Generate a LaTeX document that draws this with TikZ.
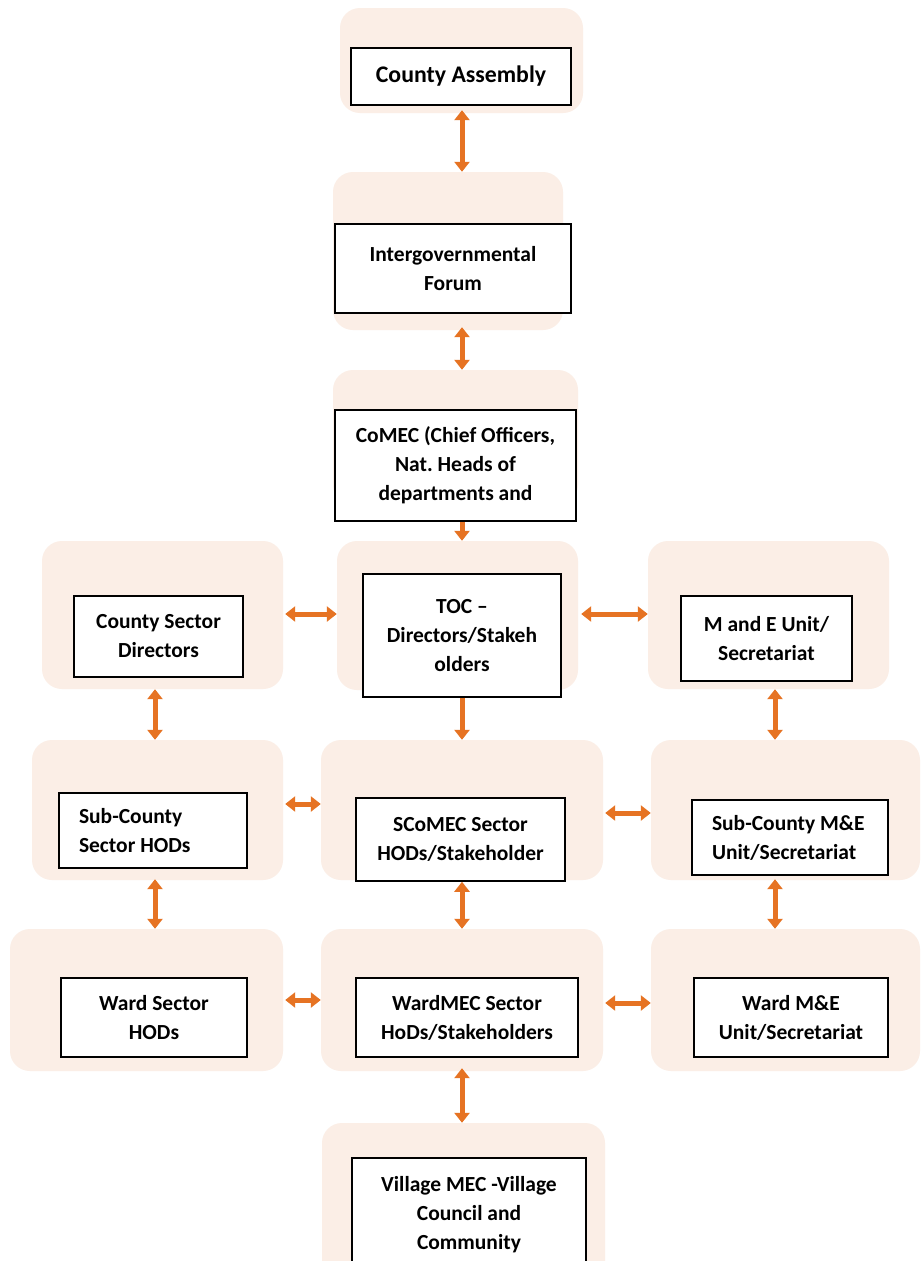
\documentclass[tikz,border=0pt]{standalone}
\usepackage{fontspec}
\setmainfont{Carlito}
\usetikzlibrary{arrows.meta}
\definecolor{peach}{RGB}{251,238,230}
\definecolor{arrowor}{RGB}{230,115,35}
\frenchspacing
\tikzset{
  bgbox/.style={draw=none, fill=peach, rounded corners=20pt, inner sep=0pt},
  inbox/.style={draw=black, line width=1.5pt, fill=white, inner sep=0pt, align=center,
     font=\fontsize{21.5}{29}\selectfont\bfseries},
  darr/.style={draw=arrowor, line width=5pt, {Triangle[width=15pt,length=10pt]}-{Triangle[width=15pt,length=10pt]}},
  sarr/.style={draw=arrowor, line width=5pt, -{Triangle[width=15pt,length=10pt]}},
}
\begin{document}
\begin{tikzpicture}[x=1pt,y=-1pt]
\clip (0,0) rectangle (922,1261);
\fill[white] (0,0) rectangle (922,1261);
% background panels
\node[bgbox, minimum width=243pt, minimum height=105pt] (cabg) at (461.5,60.5) {};
\node[bgbox, minimum width=230pt, minimum height=158pt] (ifbg) at (448,251) {};
\node[bgbox, minimum width=245pt, minimum height=135pt] (cobg) at (455.5,437.5) {};
\node[bgbox, minimum width=241pt, minimum height=149pt] (tocbg) at (457.5,615.5) {};
\node[bgbox, minimum width=241pt, minimum height=148pt] (csdbg) at (162.5,615) {};
\node[bgbox, minimum width=241pt, minimum height=148pt] (mebg) at (768.5,615) {};
\node[bgbox, minimum width=251pt, minimum height=140pt] (schbg) at (157.5,810) {};
\node[bgbox, minimum width=282pt, minimum height=140pt] (scmbg) at (462,810) {};
\node[bgbox, minimum width=269pt, minimum height=140pt] (scmebg) at (785.5,810) {};
\node[bgbox, minimum width=273pt, minimum height=142pt] (wshbg) at (146.5,1000) {};
\node[bgbox, minimum width=282pt, minimum height=142pt] (wmbg) at (462,1000) {};
\node[bgbox, minimum width=269pt, minimum height=142pt] (wmebg) at (785.5,1000) {};
\node[bgbox, minimum width=283pt, minimum height=177pt] (vbg) at (463.5,1211.5) {};
% inner boxes
\node[inbox, minimum width=220pt, minimum height=57pt, font=\fontsize{23.8}{29}\selectfont\bfseries] (ca) at (461,76.5) {County Assembly};
\node[inbox, minimum width=236pt, minimum height=89pt] (if) at (453,268.5) {Intergovernmental\\Forum};
\node[inbox, minimum width=241pt, minimum height=111pt] (co) at (455.5,465.5) {CoMEC (Chief Officers,\\Nat. Heads of\\departments and};
\node[inbox, minimum width=198pt, minimum height=123pt] (toc) at (462,635.5) {TOC --\\Directors/Stakeh\\olders};
\node[inbox, minimum width=169pt, minimum height=81pt] (csd) at (158.5,636.5) {County Sector\\Directors};
\node[inbox, minimum width=171pt, minimum height=85pt] (me) at (766.5,638.5) {M and E Unit/\\Secretariat};
\node[inbox, minimum width=188pt, minimum height=75pt, text width=148pt, align=flush left, inner xsep=20pt] (sch) at (153,830.5) {Sub-County\\Sector HODs};
\node[inbox, minimum width=209pt, minimum height=83pt] (scm) at (460.5,839.5) {SCoMEC Sector\\HODs/Stakeholder};
\node[inbox, minimum width=196pt, minimum height=75pt, text width=156pt, align=flush left, inner xsep=20pt] (scme) at (790,837.5) {Sub-County M\&E\\Unit/Secretariat};
\node[inbox, minimum width=186pt, minimum height=79pt] (wsh) at (154,1017.5) {Ward Sector\\HODs};
\node[inbox, minimum width=222pt, minimum height=79pt] (wm) at (467,1017.5) {WardMEC Sector\\HoDs/Stakeholders};
\node[inbox, minimum width=194pt, minimum height=79pt] (wme) at (791,1017.5) {Ward M\&E\\Unit/Secretariat};
\node[inbox, minimum width=234pt, minimum height=114pt] (vil) at (469,1215) {Village MEC -Village\\Council and\\Community};
% guide coordinates
\coordinate (xl) at (155,0);
\coordinate (xm) at (462,0);
\coordinate (xr) at (775,0);
\coordinate (r1) at (0,614);
\coordinate (r2a) at (0,804);
\coordinate (r2b) at (0,813);
\coordinate (r3a) at (0,1000);
\coordinate (r3b) at (0,1003);
% connectors
\draw[darr] ([yshift=3pt]cabg.south -| xm) -- (ifbg.north -| xm);
\draw[darr] ([yshift=3pt]ifbg.south -| xm) -- (cobg.north -| xm);
\draw[sarr] (co.south -| xm) -- (tocbg.north -| xm);
\draw[darr] ([xshift=2pt]csdbg.east |- r1) -- (tocbg.west |- r1);
\draw[darr] ([xshift=3pt]tocbg.east |- r1) -- (mebg.west |- r1);
\draw[sarr] (toc.south -| xm) -- (scmbg.north -| xm);
\draw[darr] (csdbg.south -| xl) -- (schbg.north -| xl);
\draw[darr] (mebg.south -| xr) -- (scmebg.north -| xr);
\draw[darr] ([xshift=2pt]schbg.east |- r2a) -- (scmbg.west |- r2a);
\draw[darr] ([xshift=2pt]scmbg.east |- r2b) -- (scmebg.west |- r2b);
\draw[darr] ([yshift=1pt]schbg.south -| xl) -- (wshbg.north -| xl);
\draw[darr] (scm.south -| xm) -- (wmbg.north -| xm);
\draw[darr] ([yshift=1pt]scmebg.south -| xr) -- (wmebg.north -| xr);
\draw[darr] ([xshift=2pt]wshbg.east |- r3a) -- (wmbg.west |- r3a);
\draw[darr] ([xshift=2pt]wmbg.east |- r3b) -- (wmebg.west |- r3b);
\draw[darr] ([yshift=3pt]wmbg.south -| xm) -- (vbg.north -| xm);
\end{tikzpicture}
\end{document}
